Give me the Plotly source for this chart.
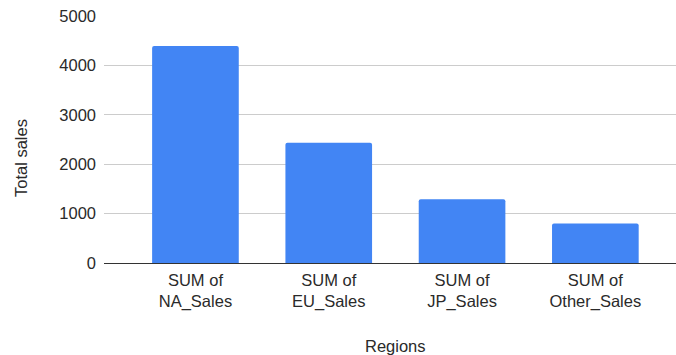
import plotly.graph_objects as go

# Total sales per region (millions of units)
categories = ["SUM of<br>NA_Sales", "SUM of<br>EU_Sales", "SUM of<br>JP_Sales", "SUM of<br>Other_Sales"]
totals = [4392.95, 2434.13, 1291.02, 797.75]
y_ticks = [0, 1000, 2000, 3000, 4000, 5000]

font_family = "Liberation Sans, Arial, sans-serif"
font_size = 16.5
text_color = "#2a2a2a"

fig = go.Figure(
    go.Bar(
        x=categories,
        y=totals,
        width=0.65,
        marker=dict(color="#4285F4", line=dict(width=0), cornerradius=2),
        hoverinfo="x+y",
    )
)

fig.update_layout(
    width=676,
    height=355,
    margin=dict(l=104, r=0, t=16, b=92),
    plot_bgcolor="white",
    paper_bgcolor="white",
    font=dict(family=font_family, size=font_size, color=text_color),
    showlegend=False,
    xaxis=dict(
        type="category",
        range=[-0.686, 3.605],
        showgrid=False,
        showline=True,
        linecolor="#333",
        linewidth=1,
        ticks="",
        tickfont=dict(size=font_size, color=text_color),
        ticklabelstandoff=2,
    ),
    yaxis=dict(
        range=[0, 5000],
        tickvals=y_ticks,
        ticktext=[str(v) for v in y_ticks],
        showgrid=True,
        gridcolor="#cccccc",
        gridwidth=1,
        zeroline=False,
        showline=False,
        ticks="",
        tickfont=dict(size=font_size, color=text_color),
        ticklabelstandoff=7,
    ),
    annotations=[
        dict(
            text="Regions",
            xref="paper", yref="paper",
            x=(395 - 104) / 572, y=(263 - 346) / 247,
            xanchor="center", yanchor="middle",
            showarrow=False,
            font=dict(family=font_family, size=font_size, color=text_color),
        ),
        dict(
            text="Total sales",
            xref="paper", yref="paper",
            x=(21 - 104) / 572, y=(263 - 158) / 247,
            xanchor="center", yanchor="middle",
            textangle=-90,
            showarrow=False,
            font=dict(family=font_family, size=font_size, color=text_color),
        ),
    ],
)

fig.write_html("out.html")
